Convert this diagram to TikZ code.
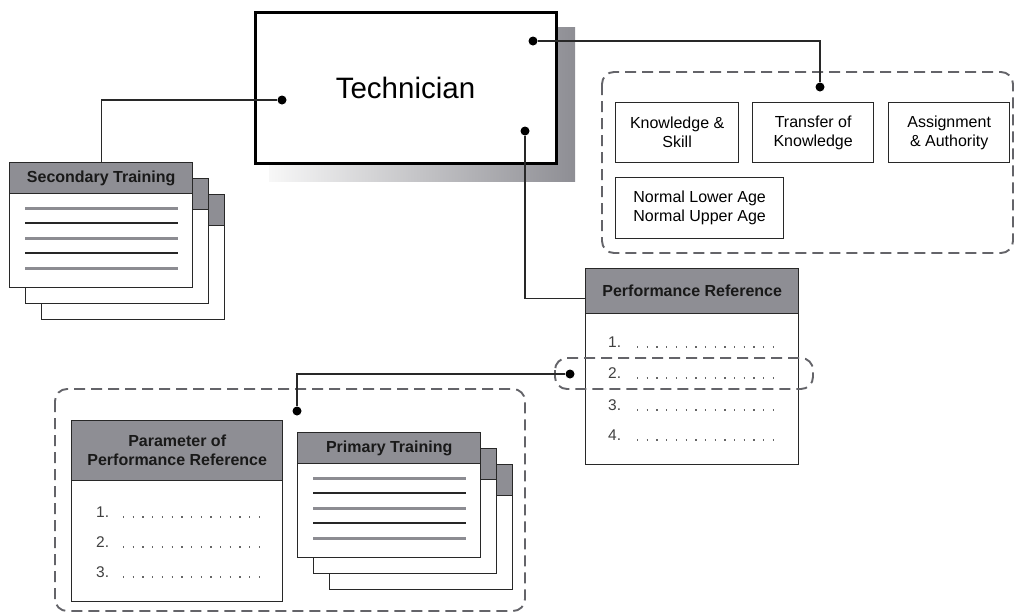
\documentclass[tikz,border=0pt]{standalone}
\usepackage{fontspec}
\setmainfont{Liberation Sans}
\usetikzlibrary{positioning, calc}

\definecolor{headgray}{RGB}{142,142,148}
\definecolor{linegray}{RGB}{140,140,146}
\definecolor{dashgray}{RGB}{100,100,105}
\definecolor{inkgray}{RGB}{40,40,40}

\tikzset{
  box/.style={draw=inkgray, line width=1.4pt, fill=white, anchor=north west, inner sep=0pt},
  head/.style={box, fill=headgray, text=black!90, align=center, font=\bfseries\fontsize{16}{19}\selectfont},
  card/.style={box, minimum width=183pt, minimum height=125pt},
  cardhead/.style={head, minimum width=183pt, minimum height=31pt},
  item/.style={box, line width=1.3pt, align=center, font=\fontsize{16}{19}\selectfont},
  num/.style={anchor=west, inner sep=0pt, text=black!75, font=\fontsize{15.5}{18}\selectfont},
  group/.style={draw=dashgray, line width=1.9pt, dash pattern=on 11pt off 6pt, rounded corners=12pt},
  wire/.style={draw=inkgray, line width=1.4pt},
  pin/.style={circle, fill=black, inner sep=0pt, minimum size=9pt},
  rule/.style={line width=3pt, draw=linegray},
  thinrule/.style={line width=1.4pt, draw=black!85},
  leader/.style={line width=1.3pt, dash pattern=on 1.3pt off 8.4pt, draw=black!60}
}

% stack of three cards: name, x, y, title
\newcommand{\trainingcards}[4]{%
  \foreach \k in {2,1}{%
    \node[card] at (#2+16*\k, #3+16*\k) {};
    \node[cardhead] at (#2+16*\k, #3+16*\k) {};
  }
  \node[card] (#1) at (#2,#3) {};
  \node[cardhead] (#1-head) at (#2,#3) {#4};
  \foreach \r in {46,76,106} \draw[rule] ([shift={(16,\r)}]#1.north west) -- ++(153,0);
  \foreach \r in {61,91} \draw[thinrule] ([shift={(16,\r)}]#1.north west) -- ++(153,0);
}

\begin{document}
\begin{tikzpicture}[x=1pt, y=-1pt]
  \useasboundingbox (0,0) rectangle (1017,614);

  % technician with shadow
  \shade[left color=black!3, right color=headgray] (269,27) rectangle (575,181);
  \node[draw=black, line width=3pt, fill=white, anchor=north west, inner sep=0pt,
        minimum width=301pt, minimum height=151pt,
        font=\fontsize{29.5}{34}\selectfont] (tech) at (253.5,10.5) {Technician};
  \node[pin] (tech-top) at (533,41) {};
  \node[pin] (tech-left) at (282,100) {};
  \node[pin] (tech-bot) at (525,131) {};

  % attributes
  \draw[group] (602,72) rectangle (1013,253);
  \node[pin] (attr-pin) at (820,87) {};
  \node[item, minimum width=123pt, minimum height=60pt] (skill) at (615,102) {Knowledge \&\\Skill};
  \node[item, minimum width=121pt, minimum height=60pt] (transfer) at (752,102) {Transfer of\\Knowledge};
  \node[item, minimum width=121pt, minimum height=60pt] (assign) at (888,102) {Assignment\\\& Authority};
  \node[item, minimum width=168pt, minimum height=61pt] (age) at (615,177) {Normal Lower Age\\Normal Upper Age};

  % secondary training
  \trainingcards{sec}{9}{162}{Secondary Training}

  % performance reference
  \node[box, minimum width=213pt, minimum height=196pt] (perf) at (585,268) {};
  \node[head, minimum width=213pt, minimum height=45pt] (perf-head) at (585,268) {Performance Reference};
  \foreach \n/\y in {1/342, 2/373, 3/405, 4/435} {
    \node[num] (perf-\n) at (608,\y) {\n.};
    \draw[leader] (637,\y+5) -- (776,\y+5);
  }
  \draw[group] (555,358) rectangle (813,389);
  \node[pin] (perf-pin) at (570,374) {};

  % parameters and primary training
  \draw[group] (55,389) rectangle (525,611);
  \node[pin] (par-pin) at (297,411) {};
  \node[box, minimum width=211pt, minimum height=181pt] (par) at (71,420) {};
  \node[head, minimum width=211pt, minimum height=60pt] (par-head) at (71,420) {Parameter of\\Performance Reference};
  \foreach \n/\y in {1/512, 2/542, 3/572} {
    \node[num] (par-\n) at (96,\y) {\n.};
    \draw[leader] (123,\y+5) -- (262,\y+5);
  }
  \trainingcards{prim}{297}{432}{Primary Training}

  % connectors
  \draw[wire] (tech-left) -| (sec.north);
  \draw[wire] (tech-top) -| (attr-pin);
  \draw[wire] (tech-bot) |- ([yshift=-7.5pt]perf-head.west);
  \draw[wire] (perf-pin) -| (par-pin);
\end{tikzpicture}
\end{document}
